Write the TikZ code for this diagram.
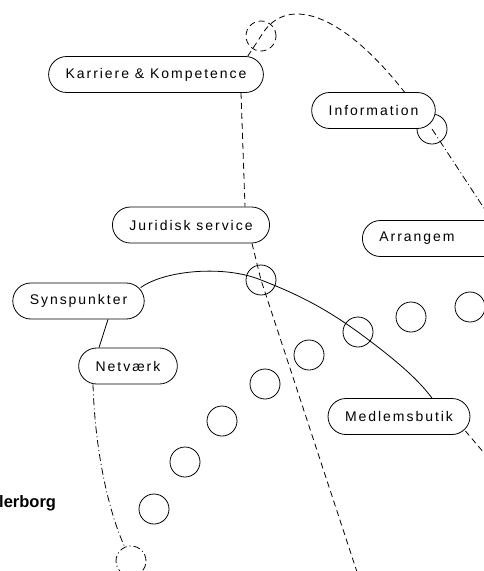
\documentclass[tikz,border=0pt]{standalone}
\usepackage{fontspec}
\newfontfamily\pillfont[LetterSpace=14]{Liberation Sans}
\newfontfamily\tagfont{Liberation Sans}
\usetikzlibrary{calc,positioning}
\tikzstyle{pill}=[draw, line width=0.8pt, rounded corners=18pt, minimum height=36pt, inner xsep=17pt, fill=white, font=\pillfont\fontsize{14}{16}\selectfont]
\tikzstyle{ring}=[draw, line width=0.8pt, circle, minimum size=30pt, inner sep=0pt]
\tikzstyle{dashline}=[line width=0.8pt, dash pattern=on 6pt off 4pt]
\tikzstyle{dotline}=[line width=0.8pt, dash pattern=on 7pt off 3pt on 1pt off 3pt]
\tikzstyle{plainline}=[line width=0.8pt]

\begin{document}
\begin{tikzpicture}[x=1pt,y=-1pt]
\useasboundingbox (0,0) rectangle (483,571);

% rings first, so the pills sit on top of them
\node (ctop) [ring, dashline] at (261,36) {};
\node (cinfo) [ring] at (432,129) {};
\node (cjur) [ring] at (261,280) {};
\node (cbot) [ring, dotline] at (131,561) {};
\foreach \name/\x/\y in {cmed/358/332, c1/411/317, c2/470/307, c3/309/355, c4/265/384, c5/222/421, c6/185/462, c7/154/509}
  \node (\name) [ring] at (\x,\y) {};

\node (kar) [pill] at (156,74.5) {Karriere \& Kompetence};
\node (info) [pill] at (373.5,110.5) {Information};
\node (jur) [pill] at (191,225) {Juridisk service};
\node (arr) [pill, anchor=west, text width=110pt, align=left] at (362,238.5) {Arrangem};
\node (syn) [pill] at (78.5,301) {Synspunkter};
\node (net) [pill] at (128,366) {Netværk};
\node (med) [pill] at (399,416.5) {Medlemsbutik};
\node (town) [anchor=base west, font=\tagfont\bfseries\fontsize{16.5}{18}\selectfont, inner sep=0pt] at (-1,507) {lerborg};

\coordinate (jend) at (358,575);
\coordinate (mend) at (490,460);

\draw [dashline] ([xshift=-16pt]kar.north east) -- (ctop.center) .. controls (285,-5) and (340,10) .. ([xshift=31pt]info.north);
\draw [dashline] ([xshift=85pt]kar.south) -- ([xshift=54pt]jur.north);
\draw [dashline] ([xshift=61pt]jur.south) -- (cjur.center) -- (jend);
\draw [dotline] (cinfo.center) -- ([xshift=-15pt]arr.north east);
\draw [plainline] ([xshift=-4pt,yshift=-5pt]syn.north east) .. controls (165,270) and (225,265) .. (cjur.center) .. controls (305,297) and (330,312) .. (cmed.center) .. controls (385,352) and (415,375) .. ([xshift=33pt]med.north);
\draw [plainline] ([xshift=29.5pt]syn.south) -- ([xshift=-29pt]net.north);
\draw [dotline] ([xshift=-35pt]net.south) .. controls (95,450) and (108,510) .. (cbot);
\draw [dashline] ([xshift=-5pt,yshift=4pt]med.south east) -- (mend);
\end{tikzpicture}
\end{document}
